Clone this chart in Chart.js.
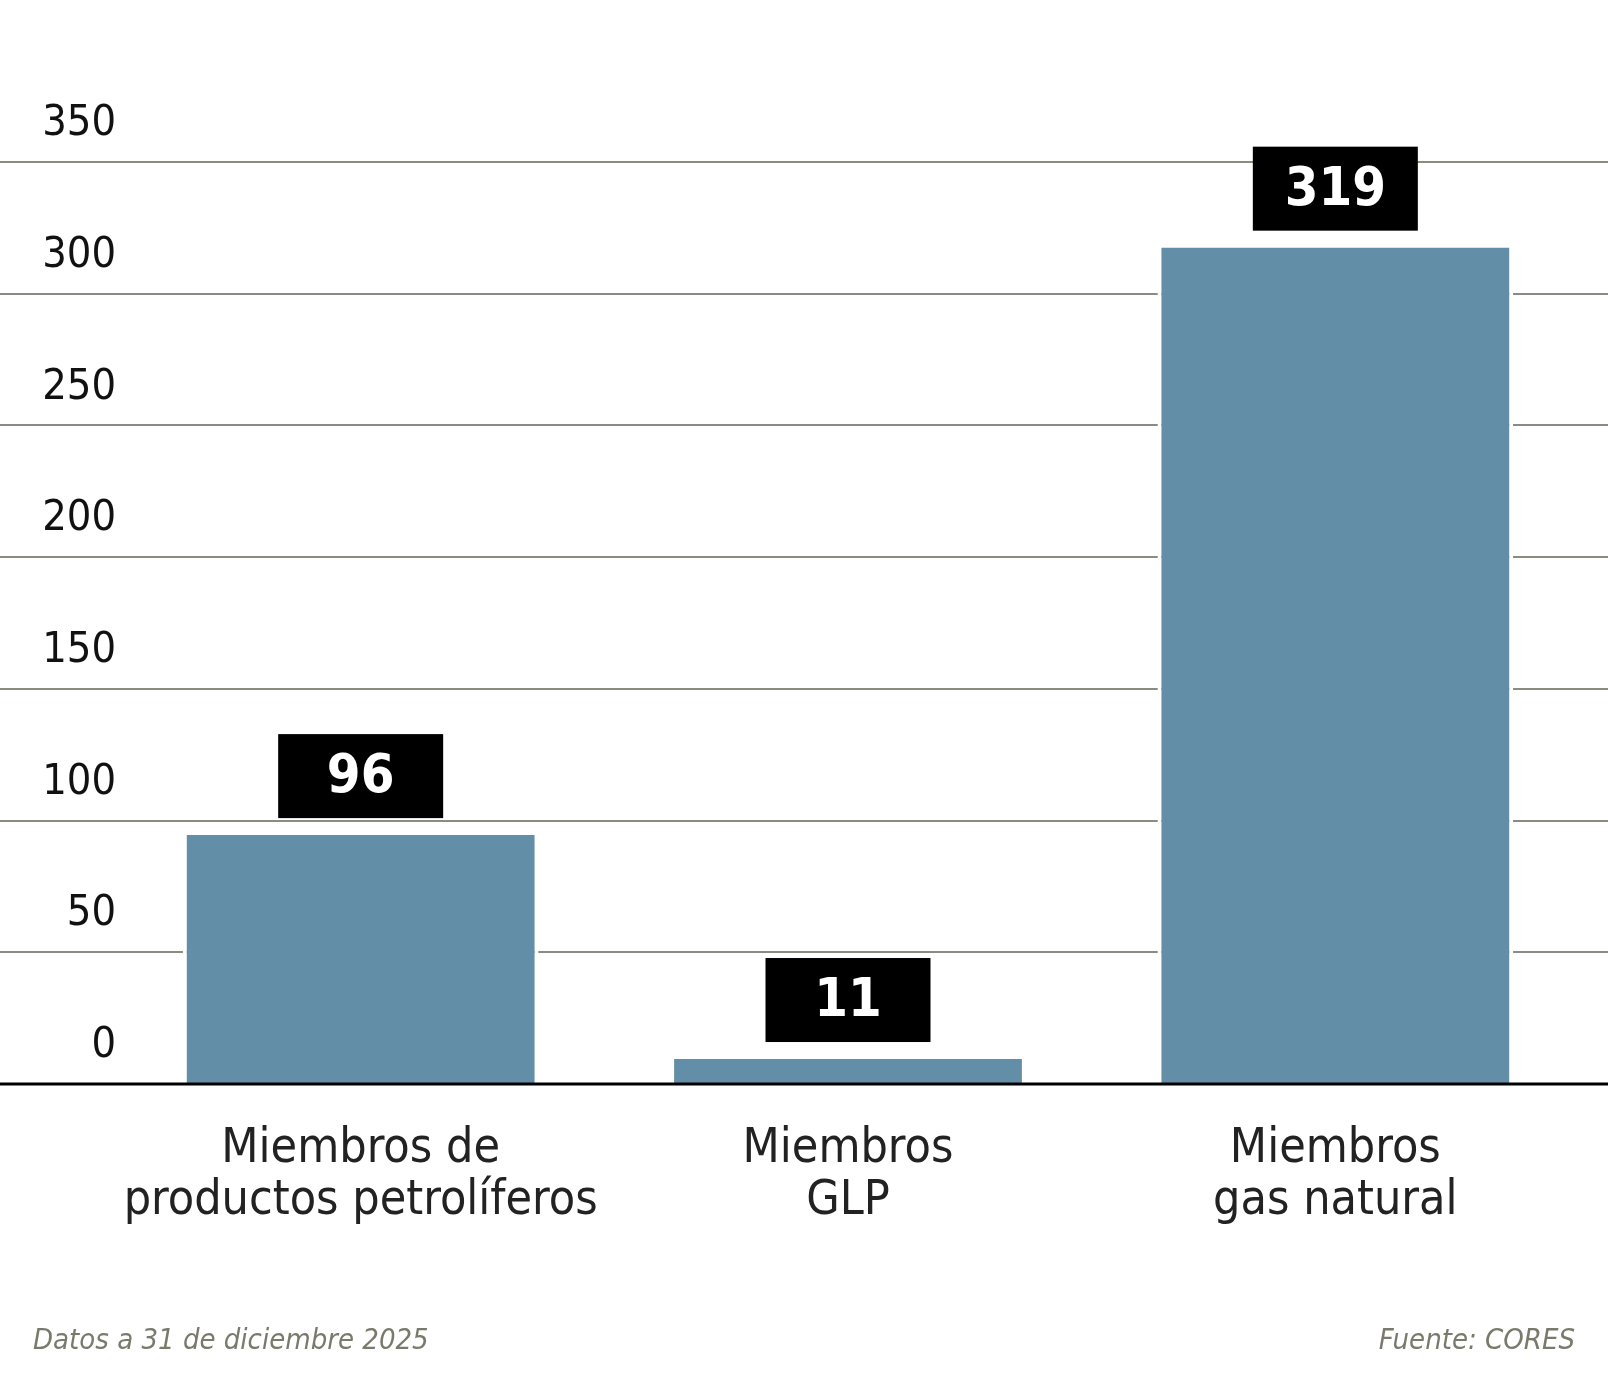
<!DOCTYPE html>
<html lang="es">
<head>
<meta charset="utf-8">
<title>Miembros CORES</title>
<script src="https://cdn.jsdelivr.net/npm/chart.js@4.4.1/dist/chart.umd.min.js"></script>
<style>
  html, body { margin: 0; padding: 0; background: #fff; }
  #wrap { position: relative; width: 1608px; height: 1375px; }
  .foot { position: absolute; top: 1322px; font: italic 29px "Liberation Sans Narrow", "DejaVu Sans Condensed", sans-serif; color: #7a7a6c; }
  #nota { left: 33px; }
  #fuente { right: 33px; }
</style>
</head>
<body>
<div id="wrap">
  <canvas id="myChart" width="1608" height="1375"></canvas>
  <div class="foot" id="nota">Datos a 31 de diciembre 2025</div>
  <div class="foot" id="fuente">Fuente: CORES</div>
</div>
<script>
var categorias = [
  ['Miembros de', 'productos petrolíferos'],
  ['Miembros', 'GLP'],
  ['Miembros', 'gas natural']
];
var miembros = [96, 11, 319];
var ticksY = [0, 50, 100, 150, 200, 250, 300, 350];

var fuente = '"Liberation Sans Narrow", "DejaVu Sans Condensed", sans-serif';

// gridlines across the whole width, under the bars
var lineas = {
  id: 'lineas',
  beforeDatasetsDraw: function(chart) {
    var ctx = chart.ctx, y = chart.scales.y;
    ctx.save();
    ctx.strokeStyle = '#8b8b7e';
    ctx.lineWidth = 2;
    ticksY.forEach(function(v) {
      if (v === 0) return;
      var py = Math.round(y.getPixelForValue(v));
      ctx.beginPath();
      ctx.moveTo(0, py);
      ctx.lineTo(chart.width, py);
      ctx.stroke();
    });
    ctx.restore();
  },
  afterDatasetsDraw: function(chart) {
    var ctx = chart.ctx, y = chart.scales.y;
    var meta = chart.getDatasetMeta(0);
    ctx.save();
    // base line
    var py0 = y.getPixelForValue(0);
    ctx.strokeStyle = '#000';
    ctx.lineWidth = 3;
    ctx.beginPath();
    ctx.moveTo(0, py0);
    ctx.lineTo(chart.width, py0);
    ctx.stroke();
    // value boxes
    meta.data.forEach(function(bar, i) {
      var top = y.getPixelForValue(miembros[i]);
      var w = 165, h = 84;
      var bx = bar.x - w / 2, by = top - 13 - h;
      ctx.fillStyle = '#000';
      ctx.fillRect(bx, by, w, h);
      ctx.fillStyle = '#fff';
      ctx.font = 'bold 54px ' + fuente;
      ctx.textAlign = 'center';
      ctx.textBaseline = 'middle';
      ctx.fillText(String(miembros[i]), bar.x, by + h / 2 + 2);
    });
    ctx.restore();
  }
};

var ctx = document.getElementById('myChart').getContext('2d');
var chart = new Chart(ctx, {
  type: 'bar',
  data: {
    labels: categorias,
    datasets: [{
      data: miembros,
      backgroundColor: '#628fa7',
      borderColor: '#ffffff',
      borderWidth: { top: 4, left: 4, right: 4, bottom: 0 },
      borderSkipped: false,
      barPercentage: 0.73,
      categoryPercentage: 1
    }]
  },
  options: {
    responsive: false,
    animation: false,
    layout: { padding: { top: 162, right: 29, left: 0, bottom: 0 } },
    plugins: { legend: { display: false }, tooltip: { enabled: false } },
    scales: {
      x: {
        grid: { display: false, drawTicks: false },
        border: { display: false },
        ticks: {
          color: '#222',
          padding: 40,
          font: { family: fuente, size: 48, lineHeight: 1.08 },
          maxRotation: 0,
          autoSkip: false
        },
        afterFit: function(s) { s.height = 291; }
      },
      y: {
        min: 0,
        max: 350,
        afterBuildTicks: function(s) { s.ticks = ticksY.map(function(v) { return { value: v }; }); },
        grid: { display: false, drawTicks: false },
        border: { display: false },
        ticks: {
          color: '#111',
          padding: 1,
          labelOffset: -38,
          font: { family: fuente, size: 43 }
        },
        afterFit: function(s) { s.width = 117; }
      }
    }
  },
  plugins: [lineas]
});
</script>
</body>
</html>
